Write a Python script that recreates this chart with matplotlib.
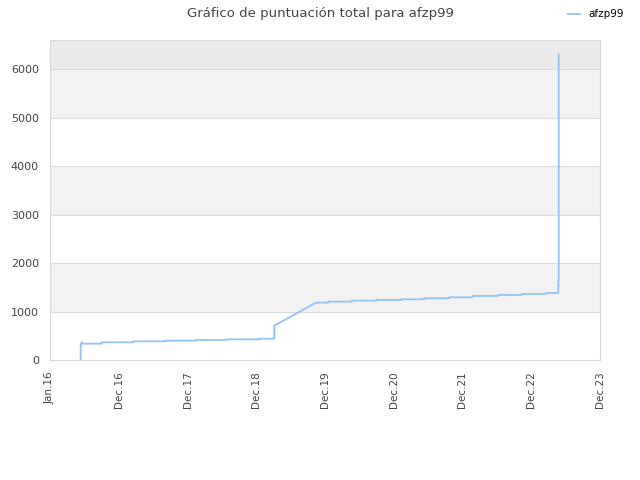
import numpy as np
import pandas as pd
import matplotlib
matplotlib.use('Agg')
import matplotlib.pyplot as plt

# data (step corners listed twice)
dates = ['2016-06-10', '2016-06-10', '2016-06-15', '2016-06-22', '2016-09-29', '2016-09-29',
         '2017-03-13', '2017-03-13', '2017-08-27', '2017-08-27', '2018-02-06', '2018-02-06',
         '2018-07-18', '2018-07-18', '2019-01-04', '2019-01-04', '2019-03-25', '2019-03-25',
         '2019-10-30', '2020-01-03', '2020-01-03', '2020-05-05', '2020-05-05', '2020-09-10',
         '2020-09-10', '2021-01-19', '2021-01-19', '2021-05-21', '2021-05-21', '2021-09-30',
         '2021-09-30', '2022-01-31', '2022-01-31', '2022-06-14', '2022-06-14', '2022-10-15',
         '2022-10-15', '2023-02-20', '2023-02-20', '2023-04-26', '2023-04-26', '2023-04-28',
         '2023-04-28']
scores = [0, 275, 365, 337, 337, 365,
          365, 385, 385, 399, 399, 413,
          413, 426, 426, 440, 440, 708,
          1183, 1183, 1204, 1204, 1224, 1224,
          1238, 1238, 1252, 1252, 1273, 1273,
          1293, 1293, 1321, 1321, 1342, 1342,
          1362, 1362, 1383, 1383, 1637, 1637,
          6295]

tick_labels = ['Jan.16', 'Dec.16', 'Dec.17', 'Dec.18', 'Dec.19', 'Dec.20', 'Dec.21', 'Dec.22', 'Dec.23']
player = 'afzp99'

x = pd.to_datetime(dates)
start = pd.Timestamp('2016-01-01')
end = pd.Timestamp('2023-12-01')

fig = plt.figure(figsize=(6.4, 4.8), dpi=100)
ax = fig.add_axes([50/640, 120/480, 550/640, 320/480])

ymax = 6600
# alternating bands
for lo in range(0, 6000, 1000):
    if (lo // 1000) % 2 == 1:
        ax.axhspan(lo, lo + 1000, color='#f2f2f2', zorder=0, lw=0)
ax.axhspan(6000, ymax, color='#ebebeb', zorder=0, lw=0)
for yv in range(1000, 7000, 1000):
    ax.axhline(yv, color='#dcdcdc', lw=0.8, zorder=1)

ax.plot(x, scores, color='#92c4f4', lw=1.3, label=player, zorder=3)

ax.set_xlim(start, end)
ax.set_ylim(0, ymax)
ticks = pd.to_datetime(np.linspace(start.value, end.value, len(tick_labels)))
ax.set_xticks(ticks)
ax.set_xticklabels(tick_labels, rotation=90, fontsize=7.5, color='#444444')
ax.set_yticks(range(0, 7000, 1000))
ax.set_yticklabels([str(v) for v in range(0, 7000, 1000)], fontsize=8, color='#444444')
ax.tick_params(length=0, pad=8)
for s in ax.spines.values():
    s.set_color('#d9d9d9')

fig.suptitle('Gráfico de puntuación total para afzp99', fontsize=9.5, color='#444444', y=0.985)
fig.legend(loc='upper right', bbox_to_anchor=(0.99, 1.0), frameon=False, fontsize=7.5,
           handlelength=1.2)

fig.savefig('out.png', dpi=100)
